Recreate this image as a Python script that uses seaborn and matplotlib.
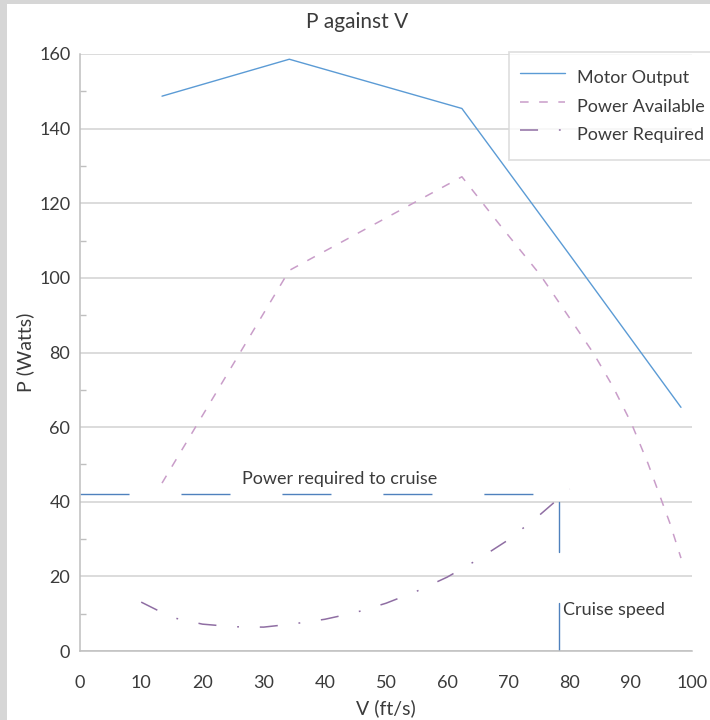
import matplotlib
matplotlib.use("Agg")
import matplotlib.pyplot as plt
from matplotlib.patches import Rectangle
import seaborn as sns
import pandas as pd

# ---------------- data ----------------
motor_v = [13.4, 34.2, 62.4, 80.0, 98.2]
motor_p = [148.7, 158.6, 145.4, 106.2, 65.3]

avail_v = [13.4, 34.2, 62.4, 68.6, 75.2, 80.6, 83.9, 87.1, 90.1, 92.8, 96.4, 98.2]
avail_p = [45.0, 102.0, 127.1, 114.2, 100.8, 87.8, 79.8, 70.8, 61.0, 50.3, 34.2, 24.9]

req_v = [10, 15, 20, 25, 30, 35, 40, 45, 50, 55, 60, 65, 70, 75, 80]
req_p = [13.1, 9.0, 7.2, 6.5, 6.4, 7.3, 8.5, 10.3, 12.8, 16.0, 19.8, 24.5, 29.8, 36.3, 43.4]

cruise_power = 42.0
cruise_speed = 78.2
cruise_mark_upper = [40.0, 26.6]
cruise_mark_lower = [12.9, 0.0]

x_ticks = list(range(0, 101, 10))
y_ticks = list(range(0, 161, 20))
y_minor = list(range(10, 160, 20))

series_names = ["Motor Output", "Power Available", "Power Required"]

# ---------------- style ----------------
sns.set_style("white")
plt.rcParams["font.family"] = ["Lato", "DejaVu Sans"]
plt.rcParams["lines.scale_dashes"] = False
TXT = "#3b3b3b"
GRID = "#d9d9d9"
AX = "#bfbfbf"
BLUE = "#5b9bd5"
PINK = "#c99dc9"
PURPLE = "#8f6ea3"
CRUISE = "#4f81bd"

W, H = 710, 720
fig = plt.figure(figsize=(W / 100, H / 100), dpi=100)
fig.patch.set_facecolor("#d6d6d6")
fig.patches.append(Rectangle((7 / W, 0), 1 - 7 / W, 1 - 4 / H, transform=fig.transFigure,
                             facecolor="white", edgecolor="none", zorder=-10))

ax = fig.add_axes([80 / W, 1 - 651 / H, (692 - 80) / W, (651 - 54) / H])
ax.set_zorder(1)
ax.set_facecolor("none")

df_m = pd.DataFrame({"V": motor_v, "P": motor_p})
df_a = pd.DataFrame({"V": avail_v, "P": avail_p})
df_r = pd.DataFrame({"V": req_v, "P": req_p})

sns.lineplot(data=df_m, x="V", y="P", ax=ax, color=BLUE, linewidth=1.0,
             estimator=None, sort=False, label=series_names[0])
sns.lineplot(data=df_a, x="V", y="P", ax=ax, color=PINK, linewidth=1.1,
             estimator=None, sort=False, label=series_names[1],
             linestyle=(0, (6.2, 7.6)))
sns.lineplot(data=df_r, x="V", y="P", ax=ax, color=PURPLE, linewidth=1.1,
             estimator=None, sort=False, label=series_names[2],
             linestyle=(0, (13.0, 15.0, 1.3, 15.0)))

# cruise annotation lines
ax.plot([0, cruise_speed], [cruise_power, cruise_power], color=CRUISE, lw=1.0,
        linestyle=(0, (35.3, 37.4)))
ax.plot([cruise_speed, cruise_speed], cruise_mark_upper, color=CRUISE, lw=1.0)
ax.plot([cruise_speed, cruise_speed], cruise_mark_lower, color=CRUISE, lw=1.0)
ax.text(42.5, 46.2, "Power required to cruise", ha="center", va="center",
        fontsize=13, color=TXT)
ax.text(78.9, 11.0, "Cruise speed", ha="left", va="center", fontsize=13, color=TXT)

# axes
ax.set_xlim(0, 100)
ax.set_ylim(0, 160)
ax.set_xticks(x_ticks)
ax.set_yticks(y_ticks)
ax.set_yticks(y_minor, minor=True)
ax.yaxis.grid(True, which="major", color=GRID, linewidth=1.3)
ax.xaxis.grid(False)
ax.set_axisbelow(True)
for s in ["top", "right"]:
    ax.spines[s].set_visible(False)
for s in ["left", "bottom"]:
    ax.spines[s].set_color(AX)
    ax.spines[s].set_linewidth(1.1)
ax.tick_params(axis="x", which="major", direction="out", length=6.5, width=1.0,
               color=AX, labelsize=13, labelcolor=TXT, pad=11)
ax.tick_params(axis="y", which="major", length=0, labelsize=13, labelcolor=TXT, pad=7)
ax.tick_params(axis="y", which="minor", direction="in", length=4.5, width=1.0,
               color=AX, left=True)

ax.set_xlabel("V (ft/s)", fontsize=14, color=TXT)
ax.set_ylabel("P (Watts)", fontsize=14, color=TXT)
ax.xaxis.set_label_coords(0.5, -0.080)
ax.yaxis.set_label_coords(-0.075, 0.5)

fig.text(357 / W, 1 - 22 / H, "P against V", ha="center", va="center",
         fontsize=15, color=TXT)

leg = ax.legend(loc="upper left", bbox_to_anchor=(509 / W, 1 - 52 / H),
                bbox_transform=fig.transFigure, borderaxespad=0, frameon=True,
                fancybox=False, edgecolor=GRID, fontsize=13, handlelength=2.5,
                handleheight=2.05, handletextpad=0.65, borderpad=0.62,
                labelspacing=0.0)
leg.get_frame().set_linewidth(1.3)
for t in leg.get_texts():
    t.set_color(TXT)

fig.savefig("out.png", dpi=100)
